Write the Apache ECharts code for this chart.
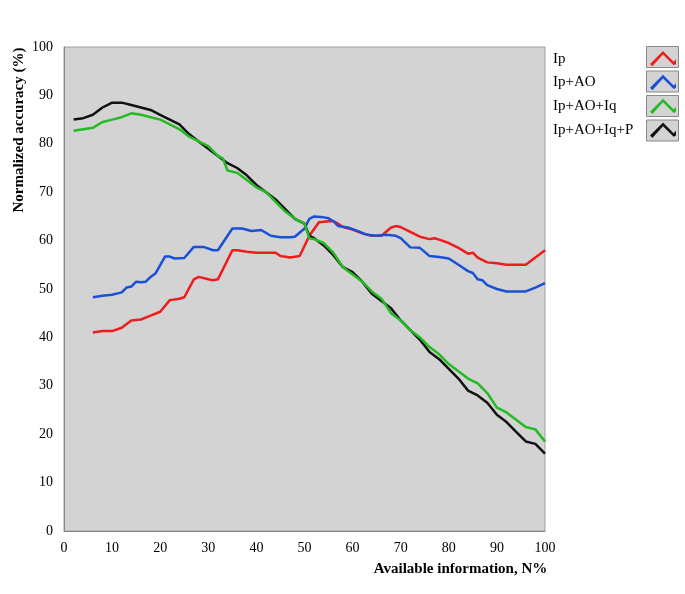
<!DOCTYPE html>
<html>
<head>
<meta charset="utf-8">
<script src="https://cdn.jsdelivr.net/npm/echarts@6/dist/echarts.min.js"></script>
<style>html,body{margin:0;padding:0;background:#fff;}#c{width:685px;height:594px;}</style>
</head>
<body>
<div id="c"></div>
<script>
var seriesNames = ['Ip', 'Ip+AO', 'Ip+AO+Iq', 'Ip+AO+Iq+P'];

var ipX = [6, 8, 10, 12, 14, 16, 18, 20, 22, 24, 25, 27, 28, 30, 31, 32, 35, 36, 38, 40, 42, 44, 45, 47, 49, 51, 53, 55, 56, 57, 58, 60, 62, 64, 66, 68, 69, 70, 72, 74, 76, 77, 78, 80, 82, 84, 85, 86, 88, 90, 92, 96, 98, 100];
var ipY = [41, 41.3, 41.3, 42, 43.5, 43.7, 44.5, 45.3, 47.7, 48, 48.3, 52, 52.5, 52, 51.8, 52, 58, 58, 57.7, 57.5, 57.5, 57.5, 56.8, 56.5, 56.8, 61, 63.8, 64, 64, 63.5, 62.8, 62.3, 61.5, 61, 61, 62.7, 63, 62.8, 61.8, 60.8, 60.3, 60.5, 60.2, 59.5, 58.5, 57.3, 57.5, 56.5, 55.5, 55.3, 55, 55, 56.5, 58];

var aoX = [6, 8, 10, 12, 13, 14, 15, 16, 17, 18, 19, 21, 22, 23, 25, 27, 29, 31, 32, 35, 37, 39, 41, 43, 45, 47, 48, 50, 51, 52, 54, 55, 56, 57, 59, 61, 63, 65, 67, 69, 70, 72, 74, 76, 78, 80, 82, 84, 85, 86, 87, 88, 90, 92, 96, 98, 100];
var aoY = [48.3, 48.6, 48.8, 49.3, 50.3, 50.5, 51.5, 51.4, 51.5, 52.5, 53.2, 56.7, 56.7, 56.3, 56.4, 58.7, 58.7, 58, 58, 62.5, 62.5, 62, 62.2, 61, 60.7, 60.7, 60.8, 62.5, 64.5, 65, 64.8, 64.6, 64, 63, 62.7, 62, 61.2, 61, 61.2, 61, 60.5, 58.6, 58.5, 56.8, 56.6, 56.3, 55, 53.7, 53.3, 52, 51.8, 50.8, 50, 49.5, 49.5, 50.3, 51.2];

var iqX = [2, 4, 6, 8, 10, 12, 14, 16, 18, 20, 22, 24, 26, 28, 30, 32, 33, 34, 36, 38, 40, 42, 44, 46, 48, 50, 51, 52, 54, 56, 58, 60, 62, 64, 66, 68, 70, 72, 74, 76, 78, 80, 82, 84, 86, 88, 90, 92, 94, 96, 98, 100];
var iqY = [82.7, 83, 83.3, 84.5, 85, 85.5, 86.3, 86, 85.5, 85, 84, 83, 81.5, 80.5, 79.5, 77.5, 77, 74.5, 74, 72.5, 71, 70, 68, 66, 64.5, 63.5, 60.5, 60.3, 59.5, 57.5, 54.5, 53, 51.5, 49.5, 48, 45, 43.5, 41.5, 40, 38, 36.5, 34.5, 33, 31.5, 30.5, 28.5, 25.5, 24.5, 23, 21.5, 21, 18.5];

var pX = [2, 4, 6, 8, 9, 10, 12, 14, 16, 18, 20, 22, 24, 26, 28, 30, 32, 34, 36, 38, 40, 42, 44, 46, 48, 50, 51, 52, 54, 56, 58, 60, 62, 64, 66, 68, 70, 72, 74, 76, 78, 80, 82, 84, 86, 88, 90, 92, 94, 96, 98, 100];
var pY = [85, 85.3, 86, 87.5, 88, 88.5, 88.5, 88, 87.5, 87, 86, 85, 84, 82, 80.5, 79, 77.5, 76, 75, 73.5, 71.5, 70, 68.5, 66.5, 64.5, 63.5, 61, 60.5, 59, 57, 54.5, 53.5, 51.5, 49, 47.5, 46, 43.5, 41.5, 39.5, 37, 35.5, 33.5, 31.5, 29, 28, 26.5, 24, 22.5, 20.5, 18.5, 18, 16];

var xTicks = [0, 10, 20, 30, 40, 50, 60, 70, 80, 90, 100];
var yTicks = [0, 10, 20, 30, 40, 50, 60, 70, 80, 90, 100];

var colors = ['#ee1c1c', '#1a4fd8', '#22bb22', '#111111'];

function pairs(xs, ys) { return xs.map(function (x, i) { return [x, ys[i]]; }); }
var allX = [ipX, aoX, iqX, pX];
var allY = [ipY, aoY, iqY, pY];

var serif = 'Liberation Serif';
var chevron = 'path://M0,13 L11,2 L20,11 L22,9 L22,13 L20,14 L11,5 L2,15 Z';

var chart = echarts.init(document.getElementById('c'), null, {renderer: 'canvas'});
var option = {
  animation: false,
  backgroundColor: '#ffffff',
  color: colors,
  grid: {left: 64, right: 140, top: 47, bottom: 63, show: true, backgroundColor: '#d3d3d3', borderColor: '#a0a0a0', borderWidth: 1, containLabel: false, outerBoundsMode: 'none'},
  graphic: [0, 1, 2, 3].map(function (i) {
    return {type: 'rect', left: 646, top: 46 + i * 24.5, shape: {width: 32, height: 21}, style: {fill: '#d3d3d3', stroke: '#888', lineWidth: 1}, z: 1};
  }),
  legend: {
    orient: 'vertical', left: 548, top: 46, align: 'right',
    itemWidth: 26, itemHeight: 16, itemGap: 8.5,
    icon: chevron,
    data: seriesNames,
    formatter: function (n) { return '{a|' + n + '}'; },
    textStyle: {fontFamily: serif, fontSize: 15, color: '#000',
      rich: {a: {fontFamily: serif, fontSize: 15, color: '#000', width: 92, align: 'left'}}},
    z: 5
  },
  xAxis: {
    type: 'value', min: 0, max: 100, interval: 10,
    name: 'Available information, N%', nameLocation: 'middle', nameGap: 31,
    nameTextStyle: {fontFamily: serif, fontSize: 15, fontWeight: 'bold', color: '#000', padding: [0, 0, 0, 312]},
    axisLine: {lineStyle: {color: '#888', width: 1}},
    axisTick: {show: false},
    splitLine: {show: false},
    axisLabel: {fontFamily: serif, fontSize: 14, color: '#000', margin: 10,
      formatter: function (v) { return xTicks.indexOf(v) >= 0 ? String(v) : ''; }}
  },
  yAxis: {
    type: 'value', min: 0, max: 100, interval: 10,
    name: 'Normalized accuracy (%)', nameLocation: 'middle', nameGap: 37, nameMoveOverlap: false,
    nameTextStyle: {fontFamily: serif, fontSize: 15, fontWeight: 'bold', color: '#000', padding: [0, 0, 0, 318]},
    axisLine: {show: true, lineStyle: {color: '#888', width: 1}},
    axisTick: {show: false},
    splitLine: {show: false},
    axisLabel: {fontFamily: serif, fontSize: 14, color: '#000', margin: 11,
      formatter: function (v) { return yTicks.indexOf(v) >= 0 ? String(v) : ''; }}
  },
  series: seriesNames.map(function (n, i) {
    return {name: n, type: 'line', data: pairs(allX[i], allY[i]), showSymbol: false, symbol: 'none',
      lineStyle: {width: 2.5, color: colors[i]}, itemStyle: {color: colors[i]}, z: 2 + (i === 2 ? 1 : 0)};
  })
};
chart.setOption(option);
</script>
</body>
</html>
